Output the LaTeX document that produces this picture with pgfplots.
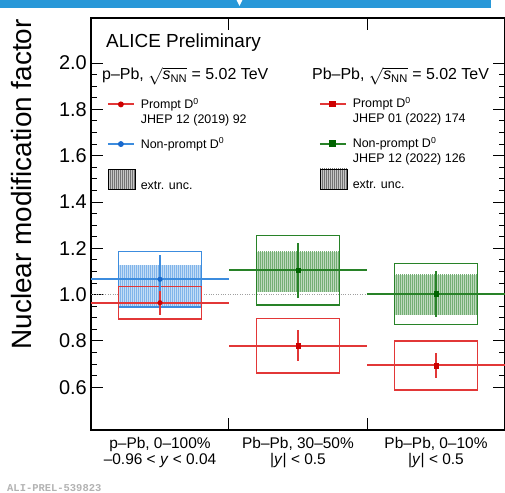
\documentclass[border=0pt]{standalone}
\usepackage{fontspec}
\setmainfont{Liberation Sans}
\newfontfamily\monofont{Liberation Mono}
\usepackage{amsmath}
\usepackage{pgfplots}
\usepackage{pgfplotstable}
\pgfplotsset{compat=1.18}
\usetikzlibrary{patterns,patterns.meta}

\definecolor{pred}{RGB}{226,55,55}
\definecolor{predm}{RGB}{205,0,0}
\definecolor{pblue}{RGB}{60,140,222}
\definecolor{pbluem}{RGB}{25,105,205}
\definecolor{pgreen}{RGB}{40,130,40}
\definecolor{pgreenm}{RGB}{0,100,0}
\definecolor{banner}{RGB}{40,152,216}

\newcommand\alicefont{\fontsize{19}{22}\selectfont}
\newcommand\headfont{\fontsize{16}{19}\selectfont}
\newcommand\legfont{\fontsize{12.5}{15}\selectfont}
\newcommand\xtfont{\fontsize{15.5}{16.5}\selectfont}
\newcommand\ytfont{\fontsize{20}{22}\selectfont}
\newcommand\ylfont{\fontsize{28}{30}\selectfont}
\newcommand\alifont{\monofont\bfseries\fontsize{10.5}{12}\selectfont}

% columns: centre, value, half bin width, stat. unc., syst. unc.
\pgfplotstableread{
x   y     xe   stat   syst
0.5 0.965 0.5  0.051  0.070
}\promptpPb
\pgfplotstableread{
x   y     xe   stat   syst
0.5 1.066 0.5  0.104  0.120
}\nonpromptpPb
\pgfplotstableread{
x   y     xe   stat   syst
1.5 0.779 0.5  0.068  0.118
2.5 0.694 0.5  0.054  0.106
}\promptPbPb
\pgfplotstableread{
x   y     xe   stat   syst
1.5 1.105 0.5  0.120  0.150
2.5 1.003 0.5  0.100  0.131
}\nonpromptPbPb

\pgfplotsset{
  frame/.style={
    scale only axis, width=414bp, height=412bp,
    xmin=0, xmax=3, ymin=0.415, ymax=2.195,
  },
  legbox/.style={
    legend style={draw=none, fill=none, inner sep=0pt, outer sep=0pt,
      anchor=north west, font=\legfont, column sep=6bp, row sep=0pt,
      nodes={inner sep=0pt, outer sep=0pt, text depth=},
      cells={anchor=base west}},
  },
  legline/.style={legend image code/.code={
      \draw[mark repeat=2, mark phase=2]
        plot coordinates {(0bp,4bp) (13bp,4bp) (26bp,4bp)};}},
  legextr/.style={legend image code/.code={
      \fill[overlay, gray!45] (0bp,0bp) rectangle (27bp,20bp);
      \fill[overlay, pattern={Lines[angle=90, distance=2bp, line width=0.8bp]},
        pattern color=black!55] (0bp,0bp) rectangle (27bp,20bp);}},
  sysbox/.style={forget plot, draw=#1, line width=1.4bp, mark=none},
  extrband/.style={forget plot, draw=none, fill=#1!30, mark=none,
    postaction={pattern={Lines[angle=90, distance=2bp, line width=0.8bp]},
      pattern color=#1!65}},
  points/.style 2 args={forget plot, only marks, mark=#2, mark size=2.3bp,
    color=#1, mark options={fill=#1m, draw=#1m},
    error bars/.cd, x dir=both, x explicit, y dir=both, y explicit,
    error mark=none, error bar style={line width=2bp, #1}},
}

\begin{document}
\begin{tikzpicture}
\begin{axis}[
  frame, legbox, clip=false,
  legend style={at={(0.0386,0.806)}},
  axis line style={line width=1.2bp},
  every tick/.style={black, line width=1bp},
  major tick length=12bp, minor tick length=6bp,
  xtick={1,2}, xticklabels={,},
  extra x ticks={0.5,1.5,2.5},
  extra x tick labels={
    {p–Pb, 0–100\%\\–0.96 < \textit{y} < 0.04},
    {Pb–Pb, 30–50\%\\|\textit{y}| < 0.5},
    {Pb–Pb, 0–10\%\\|\textit{y}| < 0.5}},
  extra x tick style={major tick length=0pt},
  xticklabel style={align=center, font=\xtfont, inner sep=0pt, yshift=-7bp},
  ytick={0.6,0.8,1.0,1.2,1.4,1.6,1.8,2.0},
  minor y tick num=3,
  yticklabel style={font=\ytfont, inner sep=0pt, xshift=-4bp},
  /pgf/number format/.cd, fixed, fixed zerofill, precision=1,
  assume math mode=true,
]
% reference line at unity
\addplot[forget plot, gray!75, line width=1bp, dash pattern=on 1bp off 1.4bp]
  coordinates {(0,1) (3,1)};

% extrapolation uncertainty bands
\addplot[extrband=pblue]  coordinates {(0.2,0.946) (0.8,0.946) (0.8,1.126) (0.2,1.126)} -- cycle;
\addplot[extrband=pgreen] coordinates {(1.2,1.012) (1.8,1.012) (1.8,1.185) (1.2,1.185)} -- cycle;
\addplot[extrband=pgreen] coordinates {(2.2,0.913) (2.8,0.913) (2.8,1.086) (2.2,1.086)} -- cycle;

% systematic uncertainty boxes (value +- syst)
\addplot[sysbox=pblue]  coordinates {(0.2,0.946) (0.8,0.946) (0.8,1.186) (0.2,1.186)} -- cycle;
\addplot[sysbox=pred]   coordinates {(0.2,0.895) (0.8,0.895) (0.8,1.035) (0.2,1.035)} -- cycle;
\addplot[sysbox=pgreen] coordinates {(1.2,0.955) (1.8,0.955) (1.8,1.255) (1.2,1.255)} -- cycle;
\addplot[sysbox=pred]   coordinates {(1.2,0.661) (1.8,0.661) (1.8,0.897) (1.2,0.897)} -- cycle;
\addplot[sysbox=pgreen] coordinates {(2.2,0.872) (2.8,0.872) (2.8,1.134) (2.2,1.134)} -- cycle;
\addplot[sysbox=pred]   coordinates {(2.2,0.588) (2.8,0.588) (2.8,0.800) (2.2,0.800)} -- cycle;

% central values with statistical uncertainties
\addplot[points={pblue}{*}]  table[x=x, y=y, x error=xe, y error=stat] {\nonpromptpPb};
\addplot[points={pred}{*}]   table[x=x, y=y, x error=xe, y error=stat] {\promptpPb};
\addplot[points={pgreen}{square*}] table[x=x, y=y, x error=xe, y error=stat] {\nonpromptPbPb};
\addplot[points={pred}{square*}]   table[x=x, y=y, x error=xe, y error=stat] {\promptPbPb};

% p-Pb legend
\addlegendimage{legline, pred, line width=1.8bp, mark=*, mark size=2bp, mark options={fill=predm, draw=predm}}
\addlegendentry{\begin{tabular}[t]{@{}l@{}}Prompt D\textsuperscript{0}\\JHEP 12 (2019) 92\end{tabular}\rule[-29.25bp]{0pt}{10bp}}
\addlegendimage{legline, pblue, line width=1.8bp, mark=*, mark size=2bp, mark options={fill=pbluem, draw=pbluem}}
\addlegendentry{Non-prompt D\textsuperscript{0}\rule[-29.25bp]{0pt}{10bp}}
\addlegendimage{legextr}
\addlegendentry{extr. unc.\rule{0pt}{12bp}}

\node[anchor=base west, inner sep=0pt, font=\alicefont]
  at ([xshift=15bp, yshift=-30bp]rel axis cs:0,1) {ALICE Preliminary};
\node[anchor=base west, inner sep=0pt, font=\headfont]
  at ([xshift=11bp, yshift=-62bp]rel axis cs:0,1)
  {p–Pb, $\sqrt{\text{\itshape s}_{\text{NN}}}$ = 5.02 TeV};
\node[anchor=base west, inner sep=0pt, font=\headfont]
  at ([xshift=221bp, yshift=-62bp]rel axis cs:0,1)
  {Pb–Pb, $\sqrt{\text{\itshape s}_{\text{NN}}}$ = 5.02 TeV};
\node[rotate=90, anchor=base east, inner sep=0pt, font=\ylfont]
  at ([xshift=-59bp, yshift=-1bp]rel axis cs:0,1) {Nuclear modification factor};
\end{axis}

% Pb-Pb legend
\begin{axis}[frame, hide axis, legbox, legend style={at={(0.5507,0.807)}}]
\addlegendimage{legline, pred, line width=1.8bp, mark=square*, mark size=2.5bp, mark options={fill=predm, draw=predm}}
\addlegendentry{\begin{tabular}[t]{@{}l@{}}Prompt D\textsuperscript{0}\\JHEP 01 (2022) 174\end{tabular}\rule[-29.25bp]{0pt}{10bp}}
\addlegendimage{legline, pgreen, line width=1.8bp, mark=square*, mark size=2.5bp, mark options={fill=pgreenm, draw=pgreenm}}
\addlegendentry{\begin{tabular}[t]{@{}l@{}}Non-prompt D\textsuperscript{0}\\JHEP 12 (2022) 126\end{tabular}\rule[-29.25bp]{0pt}{10bp}}
\addlegendimage{legextr}
\addlegendentry{extr. unc.\rule{0pt}{12bp}}
\end{axis}

\fill[banner] (-91bp,422bp) rectangle (400bp,430bp);
\fill[white] (145.5bp,430bp) -- (151.5bp,430bp) -- (148.5bp,424bp) -- cycle;
\node[anchor=base west, inner sep=0pt, font=\alifont, text=gray!60]
  at (-84bp,-61bp) {ALI-PREL-539823};

\pgfresetboundingbox
\path[use as bounding box] (-91bp,-63bp) rectangle (414bp,430bp);
\end{tikzpicture}
\end{document}
